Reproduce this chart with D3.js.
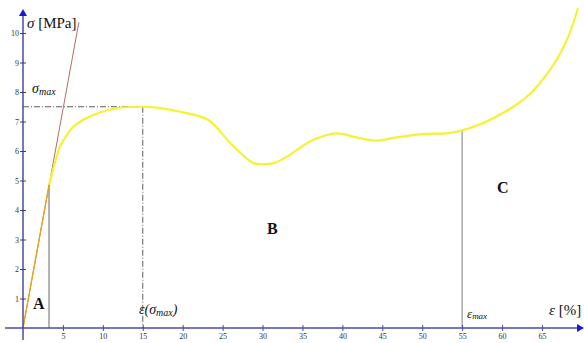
<!DOCTYPE html>
<html>
<head>
<meta charset="utf-8">
<script src="https://cdn.jsdelivr.net/npm/d3@7"></script>
<style>
  body { margin: 0; background: #fff; }
  svg { display: block; }
  .tick text { font-family: "Liberation Serif", serif; font-size: 8px; fill: #333; }
  .lbl { font-family: "Liberation Serif", serif; fill: #111; }
</style>
</head>
<body>
<div id="vis-container"></div>
<script>
// stress-strain curve
const strain = [3.26, 4.0, 4.63, 5.5, 6.3, 7.5, 8.8, 11.7, 15, 17, 19.7, 23.2, 26, 28.8, 30, 31.5, 33, 36.3, 39.3, 41.8, 44.3, 46.8, 50.3, 53.1, 55, 58.9, 63.1, 66, 68.1, 69.5];
const stress = [4.85, 5.6, 6.15, 6.55, 6.82, 7.05, 7.22, 7.45, 7.5, 7.46, 7.33, 7.05, 6.26, 5.6, 5.55, 5.6, 5.8, 6.37, 6.6, 6.46, 6.35, 6.46, 6.58, 6.6, 6.7, 7.11, 7.84, 8.75, 9.76, 10.84];

// elastic part and modulus line
const elasticEnd = [3.26, 4.85];
const modulusEnd = [7.0, 10.37];

// marked values
const sigmaMax = 7.5;
const epsAtSigmaMax = 15;
const epsMax = 55;
const epsMaxStress = 6.7;

const xTicks = [5, 10, 15, 20, 25, 30, 35, 40, 45, 50, 55, 60, 65];
const yTicks = [1, 2, 3, 4, 5, 6, 7, 8, 9, 10];

const width = 584, height = 343;
const axisColor = '#4a4aa8';
const arrowColor = '#1a1ad0';

const svg = d3.select('#vis-container')
  .append('svg')
  .attr('width', width)
  .attr('height', height);

const x = d3.scaleLinear().domain([0, 65]).range([23, 542]);
const y = d3.scaleLinear().domain([0, 10]).range([328, 33]);

// guide lines
svg.append('line')
  .attr('x1', x(0)).attr('x2', x(epsAtSigmaMax))
  .attr('y1', y(sigmaMax)).attr('y2', y(sigmaMax))
  .attr('stroke', '#333').attr('stroke-width', 0.8)
  .attr('stroke-dasharray', '6,2,1,2');
svg.append('line')
  .attr('x1', x(epsAtSigmaMax)).attr('x2', x(epsAtSigmaMax))
  .attr('y1', y(sigmaMax)).attr('y2', y(0))
  .attr('stroke', '#333').attr('stroke-width', 0.8)
  .attr('stroke-dasharray', '6,2,1,2');

svg.append('line')
  .attr('x1', x(elasticEnd[0])).attr('x2', x(elasticEnd[0]))
  .attr('y1', y(elasticEnd[1])).attr('y2', y(0))
  .attr('stroke', '#999').attr('stroke-width', 1.5);
svg.append('line')
  .attr('x1', x(epsMax)).attr('x2', x(epsMax))
  .attr('y1', y(epsMaxStress)).attr('y2', y(0))
  .attr('stroke', '#aaa').attr('stroke-width', 1.5);

// modulus line
svg.append('line')
  .attr('x1', x(0)).attr('y1', y(0))
  .attr('x2', x(modulusEnd[0])).attr('y2', y(modulusEnd[1]))
  .attr('stroke', '#b86a6a').attr('stroke-width', 1);

// curve
const line = d3.line()
  .x(d => x(d[0]))
  .y(d => y(d[1]))
  .curve(d3.curveCatmullRom.alpha(0.5));

svg.append('path')
  .datum(d3.zip(strain, stress))
  .attr('d', line)
  .attr('fill', 'none')
  .attr('stroke', '#f6f232')
  .attr('stroke-width', 2.2);

svg.append('line')
  .attr('x1', x(0)).attr('y1', y(0))
  .attr('x2', x(elasticEnd[0])).attr('y2', y(elasticEnd[1]))
  .attr('stroke', '#e8a818').attr('stroke-width', 1.3);

// axes
svg.append('line')
  .attr('x1', 5).attr('x2', 579)
  .attr('y1', y(0)).attr('y2', y(0))
  .attr('stroke', axisColor).attr('stroke-width', 1.5);
svg.append('line')
  .attr('x1', x(0)).attr('x2', x(0))
  .attr('y1', 340).attr('y2', 14)
  .attr('stroke', axisColor).attr('stroke-width', 1.5);

svg.append('path')
  .attr('d', `M584,${y(0)} L577,${y(0) - 4} L577,${y(0) + 4} Z`)
  .attr('fill', arrowColor);
svg.append('path')
  .attr('d', `M${x(0)},9 L${x(0) - 4},16 L${x(0) + 4},16 Z`)
  .attr('fill', arrowColor);

const xAxis = svg.append('g')
  .attr('transform', `translate(0,${y(0) - 3})`)
  .call(d3.axisBottom(x).tickValues(xTicks).tickSize(6).tickPadding(2));
xAxis.select('.domain').remove();
xAxis.selectAll('.tick line').attr('stroke', axisColor);

const yAxis = svg.append('g')
  .attr('transform', `translate(${x(0) + 3},0)`)
  .call(d3.axisLeft(y).tickValues(yTicks).tickSize(6).tickPadding(1));
yAxis.select('.domain').remove();
yAxis.selectAll('.tick line').attr('stroke', '#444');

// labels
const yLbl = svg.append('text').attr('class', 'lbl')
  .attr('x', 27).attr('y', 28).attr('font-size', 15);
yLbl.append('tspan').attr('font-style', 'italic').text('σ');
yLbl.append('tspan').text(' [MPa]');

const sLbl = svg.append('text').attr('class', 'lbl')
  .attr('x', 32).attr('y', 93).attr('font-size', 14);
sLbl.append('tspan').attr('font-style', 'italic').text('σ');
sLbl.append('tspan').attr('font-style', 'italic').attr('font-size', 10).attr('dy', 2).text('max');

const eLbl = svg.append('text').attr('class', 'lbl')
  .attr('x', 139).attr('y', 314).attr('font-size', 14);
eLbl.append('tspan').attr('font-style', 'italic').text('ε(σ');
eLbl.append('tspan').attr('font-style', 'italic').attr('font-size', 10).attr('dy', 2).text('max');
eLbl.append('tspan').attr('font-style', 'italic').attr('dy', -2).text(')');

const emLbl = svg.append('text').attr('class', 'lbl')
  .attr('x', 467).attr('y', 318).attr('font-size', 13);
emLbl.append('tspan').attr('font-style', 'italic').text('ε');
emLbl.append('tspan').attr('font-style', 'italic').attr('font-size', 9).attr('dy', 1).text('max');

const exLbl = svg.append('text').attr('class', 'lbl')
  .attr('x', 549).attr('y', 315).attr('font-size', 15);
exLbl.append('tspan').attr('font-style', 'italic').text('ε');
exLbl.append('tspan').text(' [%]');

[['A', 33, 309], ['B', 267, 234], ['C', 497, 193]].forEach(([t, px, py]) => {
  svg.append('text').attr('class', 'lbl')
    .attr('x', px).attr('y', py)
    .attr('font-size', 16).attr('font-weight', 'bold')
    .text(t);
});
</script>
</body>
</html>
